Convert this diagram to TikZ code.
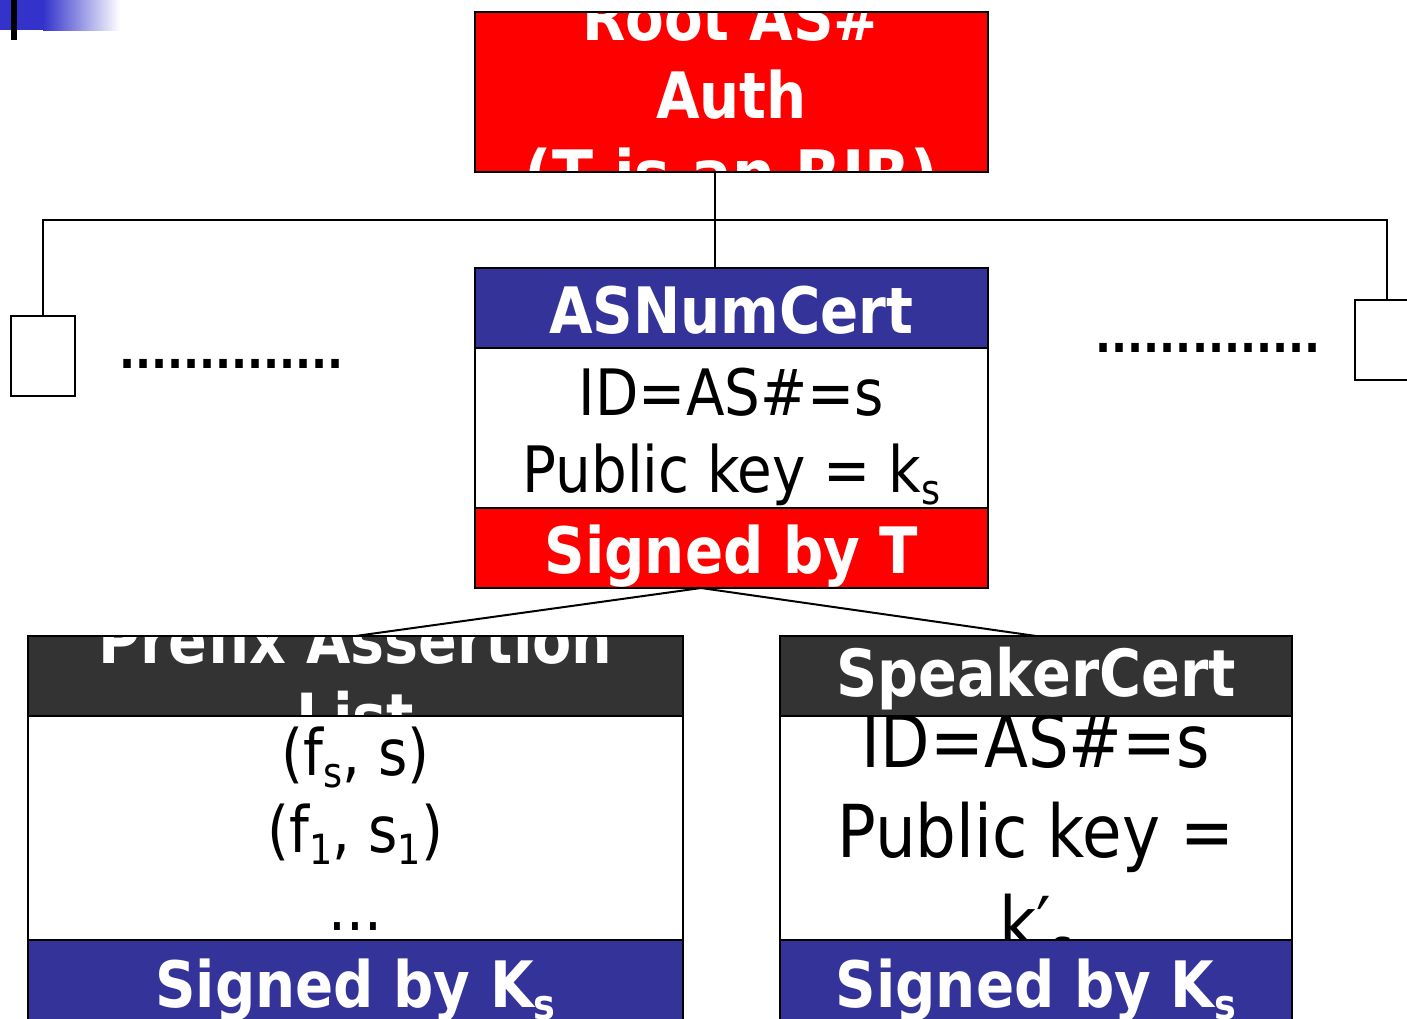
\documentclass[tikz,border=0pt]{standalone}
\usepackage{fontspec}
\usepackage{graphicx}
\setmainfont{DejaVu Sans}[FakeStretch=0.88]
\definecolor{cblue}{HTML}{333399}
\definecolor{cred}{HTML}{FF0000}
\definecolor{cdark}{HTML}{333333}
\definecolor{deco}{HTML}{3333CC}
\newcommand\mysub[1]{\raisebox{-0.2em}{\scalebox{0.65}{#1}}}
\newcommand\clipin[2]{\begin{scope}\clip (#1.south west) rectangle (#1.north east); #2 \end{scope}}
\begin{document}
\begin{tikzpicture}[x=1pt,y=-1pt,
  cbox/.style={draw=black, line width=1.8pt, inner sep=0pt, outer sep=0pt},
  boxline/.style={draw=black, line width=1.8pt},
  conn/.style={draw=black, line width=2pt},
  wlab/.style={text=white, font=\bfseries\fontsize{64}{77}\selectfont, anchor=base, inner sep=0pt},
  wlabs/.style={text=white, font=\bfseries\fontsize{65}{78}\selectfont, anchor=base, inner sep=0pt},
  blab/.style={text=black, font=\fontsize{64}{77}\selectfont, anchor=base, inner sep=0pt},
  blabl/.style={text=black, font=\fontsize{73}{88}\selectfont, anchor=base, inner sep=0pt},
  dotlab/.style={text=black, font=\bfseries\fontsize{48}{58}\selectfont, anchor=base, inner sep=0pt}]
\clip (0,0) rectangle (1407,1018);
\fill[white] (0,0) rectangle (1407,1018);
% top-left decoration
\fill[deco] (0,0) rectangle (43,30);
\shade[left color=deco, right color=white] (43,0) rectangle (120,30);
\fill[black] (11,0) rectangle (17,40);

% root
\node[cbox, fill=cred, minimum width=513pt, minimum height=160pt] (root) at (731.5,92) {};
\clipin{root}{
  \node[wlab] (rootA) at (731.5,40) {Root AS\#};
  \node[wlab] (rootB) at (731.5,118) {Auth};
  \node[wlab] (rootC) at (731.5,196) {\addfontfeature{FakeStretch=0.94}(T is an RIR)};
}

% ASNumCert
\node[cbox, fill=cblue, minimum width=513pt, minimum height=80pt] (asnH) at (731.5,308) {};
\node[wlab] (asnHt) at (731.5,333) {ASNumCert};
\node[cbox, fill=white, minimum width=513pt, minimum height=160pt] (asnB) at (731.5,428) {};
\node[blab] (asnB1) at (731.5,415) {ID=AS\#=s};
\node[blab] (asnB2) at (731.5,492) {Public key = k\mysub{s}};
\node[cbox, fill=cred, minimum width=513pt, minimum height=80pt] (asnS) at (731.5,548) {};
\node[wlab] (asnSt) at (731.5,573) {Signed by T};

% small side boxes and dots
\node[cbox, fill=white, minimum width=64pt, minimum height=80pt] (lbox) at (43,356) {};
\node[cbox, fill=white, minimum width=64pt, minimum height=80pt] (rbox) at (1387,340) {};
\node[dotlab] (ldots) at (231.5,368) {..............};
\node[dotlab] (rdots) at (1208,352) {..............};

% Prefix Assertion List
\node[cbox, fill=cdark, minimum width=655pt, minimum height=80pt] (pfxH) at (355.5,676) {};
\clipin{pfxH}{
  \node[wlabs] (pfxH1) at (355.5,663) {Prefix Assertion};
  \node[wlabs] (pfxH2) at (355.5,740) {List};
}
\node[cbox, fill=white, minimum width=655pt, minimum height=224pt] (pfxB) at (355.5,828) {};
\clipin{pfxB}{
  \node[blab] (pfxB1) at (355.5,775) {(f\mysub{s}, s)};
  \node[blab] (pfxB2) at (355.5,852) {(f\mysub{1}, s\mysub{1})};
  \node[blab] (pfxB3) at (355.5,930) {...};
}
\node[cbox, fill=cblue, minimum width=655pt, minimum height=80pt] (pfxS) at (355.5,980) {};
\node[wlab] (pfxSt) at (355.5,1007) {Signed by K\mysub{s}};

% SpeakerCert
\node[cbox, fill=cdark, minimum width=512pt, minimum height=80pt] (spkH) at (1036,676) {};
\node[wlabs] (spkHt) at (1036,696) {SpeakerCert};
\node[cbox, fill=white, minimum width=512pt, minimum height=224pt] (spkB) at (1036,828) {};
\clipin{spkB}{
  \node[blabl] (spkB1) at (1036,767) {ID=AS\#=s};
  \node[blabl] (spkB2) at (1036,857) {Public key =};
  \node[blabl] (spkB3) at (1036,949) {k′\mysub{s}};
}
\node[cbox, fill=cblue, minimum width=512pt, minimum height=80pt] (spkS) at (1036,980) {};
\node[wlab] (spkSt) at (1036,1007) {Signed by K\mysub{s}};

% borders on top
\foreach \n in {root,asnH,asnB,asnS,pfxH,pfxB,pfxS,spkH,spkB,spkS}
  \draw[boxline] (\n.south west) rectangle (\n.north east);

% connectors
\coordinate (bus) at (0,220);
\draw[conn] ([xshift=-16.5pt]root.south) -- ([xshift=-16.5pt]asnH.north);
\draw[conn] (lbox.north) -- (lbox.north |- bus) -- (rbox.north |- bus) -- (rbox.north);
\draw[conn] ([xshift=-30.5pt]asnS.south) -- (pfxH.north);
\draw[conn] ([xshift=-30.5pt]asnS.south) -- (spkH.north);
\end{tikzpicture}
\end{document}
